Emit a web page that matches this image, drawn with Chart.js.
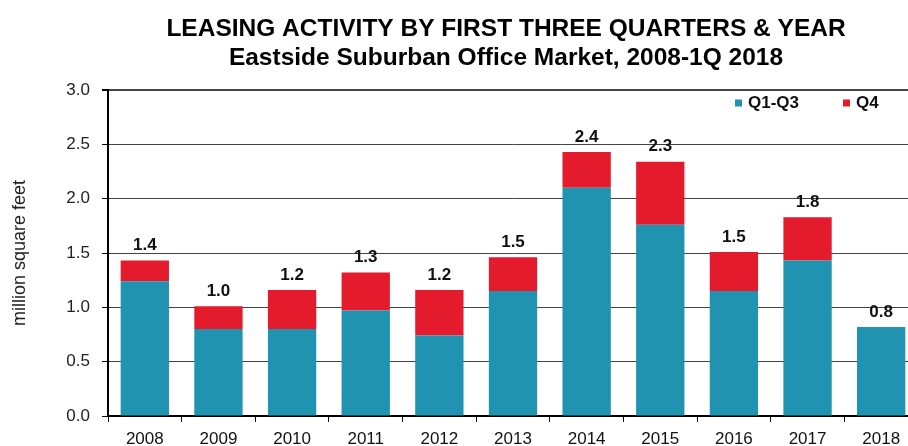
<!DOCTYPE html>
<html>
<head>
<meta charset="utf-8">
<script src="https://cdn.jsdelivr.net/npm/chart.js@4"></script>
<style>
  html, body { margin: 0; padding: 0; background: #fff; }
  #wrap { width: 908px; height: 446px; overflow: hidden; position: relative; }
  canvas { display: block; }
</style>
</head>
<body>
<div id="wrap"><canvas id="leasingChart" width="918" height="446"></canvas></div>
<script>
// Eastside suburban office leasing, million sq ft
const years = ['2008', '2009', '2010', '2011', '2012', '2013', '2014', '2015', '2016', '2017', '2018'];
const q1q3 = [1.24, 0.80, 0.80, 0.97, 0.74, 1.15, 2.10, 1.76, 1.15, 1.43, 0.82];
const q4 = [0.19, 0.21, 0.36, 0.35, 0.42, 0.31, 0.33, 0.58, 0.36, 0.40, 0];
const yTicks = [0, 0.5, 1.0, 1.5, 2.0, 2.5, 3.0];
const titleLines = ['LEASING ACTIVITY BY FIRST THREE QUARTERS & YEAR', 'Eastside Suburban Office Market, 2008-1Q 2018'];

const FONT = '"Liberation Sans", Arial, Helvetica, sans-serif';
const TEAL = '#1f93b0';
const RED = '#e31b2d';

// two-line heading, centred over the plot
const headingPlugin = {
  id: 'heading',
  afterDraw(chart) {
    const ctx = chart.ctx;
    ctx.save();
    ctx.fillStyle = '#000';
    ctx.font = 'bold 24.5px ' + FONT;
    ctx.textAlign = 'center';
    ctx.textBaseline = 'alphabetic';
    ctx.fillText(titleLines[0], 506, 36);
    ctx.fillText(titleLines[1], 506, 65);
    ctx.restore();
  }
};

// totals above each stack
const totalsPlugin = {
  id: 'totals',
  afterDatasetsDraw(chart) {
    const ctx = chart.ctx;
    const xs = chart.scales.x, ys = chart.scales.y;
    ctx.save();
    ctx.fillStyle = '#111';
    ctx.font = 'bold 17px ' + FONT;
    ctx.textAlign = 'center';
    ctx.textBaseline = 'middle';
    years.forEach((yr, i) => {
      const total = Math.round((q1q3[i] + q4[i]) * 100) / 100;
      ctx.fillText(total.toFixed(1), xs.getPixelForValue(i), ys.getPixelForValue(total) - 15);
    });
    ctx.restore();
  }
};

// small square-marker legend inside the plot, top right
const legendPlugin = {
  id: 'boxLegend',
  afterDraw(chart) {
    const ctx = chart.ctx;
    const area = chart.chartArea;
    const items = chart.data.datasets.map(ds => ({ label: ds.label, color: ds.backgroundColor }));
    let x = area.right - 183;
    const y = area.top + 13;
    ctx.save();
    ctx.font = 'bold 17px ' + FONT;
    ctx.textBaseline = 'middle';
    ctx.textAlign = 'left';
    items.forEach(it => {
      ctx.fillStyle = it.color;
      ctx.fillRect(x, y - 3.5, 7, 7);
      ctx.fillStyle = '#111';
      ctx.fillText(it.label, x + 13, y);
      x += 108;
    });
    ctx.restore();
  }
};

new Chart(document.getElementById('leasingChart'), {
  type: 'bar',
  data: {
    labels: years,
    datasets: [
      { label: 'Q1-Q3', data: q1q3, backgroundColor: TEAL, barPercentage: 0.656, categoryPercentage: 1 },
      { label: 'Q4', data: q4, backgroundColor: RED, barPercentage: 0.656, categoryPercentage: 1 }
    ]
  },
  options: {
    responsive: false,
    animation: false,
    devicePixelRatio: 1,
    layout: { padding: { top: 90, right: 0, left: 0, bottom: 0 } },
    plugins: {
      legend: { display: false },
      title: { display: false },
      tooltip: { enabled: false }
    },
    scales: {
      x: {
        stacked: true,
        offset: true,
        grid: { offset: true, drawOnChartArea: false, tickLength: 6, color: '#000', lineWidth: 1 },
        border: { display: true, color: '#000', width: 2 },
        ticks: { color: '#111', font: { family: FONT, size: 17 }, padding: 7, maxRotation: 0, autoSkip: false },
        afterFit(s) { s.height = 30; }
      },
      y: {
        stacked: true,
        min: 0,
        max: 3,
        afterBuildTicks(s) { s.ticks = yTicks.map(v => ({ value: v })); },
        grid: {
          color: '#444',
          lineWidth: c => (c.tick && c.tick.value === 3 ? 2 : 1),
          tickLength: 6,
          tickColor: '#000'
        },
        border: { display: true, color: '#000', width: 2 },
        ticks: {
          color: '#222',
          font: { family: FONT, size: 17 },
          padding: 12,
          callback: v => Number(v).toFixed(1)
        },
        title: {
          display: true,
          text: 'million square feet',
          color: '#222',
          font: { family: FONT, size: 18 },
          padding: { top: 9, bottom: 0 }
        },
        afterFit(s) { s.width = 108; }
      }
    }
  },
  plugins: [headingPlugin, totalsPlugin, legendPlugin]
});
</script>
</body>
</html>
